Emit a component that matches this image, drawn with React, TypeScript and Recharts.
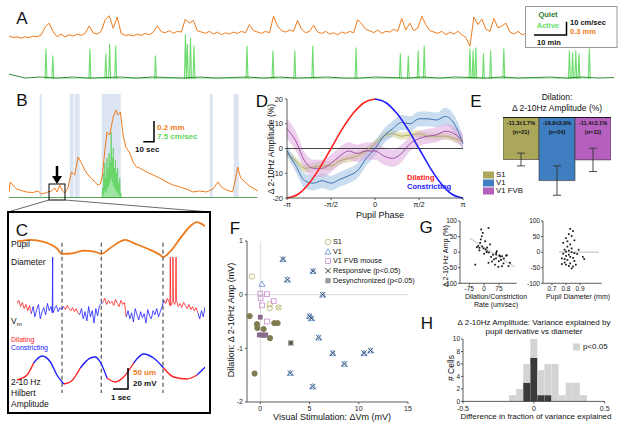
import React from 'react';
import {
  ComposedChart,
  Line,
  Area,
  XAxis,
  YAxis,
  ReferenceLine,
  ReferenceArea,
  BarChart,
  Bar,
  Cell,
  ErrorBar,
  ScatterChart,
  Scatter,
} from 'recharts';

const FONT = '"Liberation Sans", Arial, Helvetica, sans-serif';
const ORANGE = '#ee7a1c';
const LIGHT_GREEN = '#6fdc6f';
const DARK_GREEN = '#237a23';
const RED = '#ff2020';
const BLUE = '#2020ff';
const S1_COLOR = '#aaa65a';
const V1_COLOR = '#3f7ec0';
const FVB_COLOR = '#b660bd';

// ---- A: pupil diameter (every 1.25 min) and running speed (min) ----
const pupilA = [
  32, 28, 30, 26, 30, 28, 32, 30, 35, 58, 70, 45, 30, 38, 30, 36, 32, 38, 34, 40,
  62, 42, 38, 46, 80, 92, 55, 88, 40, 34, 36, 33, 38, 34, 40, 36, 44, 62, 45, 42,
  48, 40, 46, 44, 82, 70, 78, 48, 44, 40, 46, 38, 44, 36, 42, 38, 44, 40, 46, 42,
  66, 48, 44, 40, 46, 42, 90, 62, 48, 44, 50, 46, 78, 52, 42, 46, 64, 44, 40, 46,
  38, 42, 36, 44, 40, 46, 42, 80, 68, 52, 48, 42, 50, 40, 46, 44, 52, 46, 84, 50,
  70, 48, 56, 90, 66, 48, 44, 40, 46, 36, 44, 38, 46, 36, 28, 2, 88, 66, 82, 52,
  46, 84, 56, 62, 70, 44, 38, 46, 36, 40,
];
const pupilAStep = 1.25;
const spikeTimesA = [
  11.6, 13.75, 25.4, 30.4, 31.6, 33.5, 46, 55.4, 56, 57, 58.1, 74.75, 82.9, 89.75, 95.4, 109,
  122.9, 125.4, 128.5, 130.4, 144.75, 145.75, 146.6, 149, 151.25, 155.4, 176, 177, 178, 179, 182.25,
];
const spikeHeightsA = [
  31, 24, 31, 26, 36, 34, 24, 46, 36, 42, 34, 34, 29, 29, 34, 32,
  26, 24, 29, 34, 31, 29, 32, 26, 29, 31, 29, 27, 29, 26, 31,
];
const quietSpeedA = [
  5, 1, 2, 1, 2, 1, 1.5, 2, 1, 2, 1.5, 1, 2, 1, 1.5, 2, 1, 2, 1, 1.5,
  2, 1, 1, 2, 1.5, 1, 2, 1, 2, 1.5, 1, 2, 1, 1.5, 2, 1, 2, 1, 1.5,
];
const quietStepA = 5;

// ---- B: zoomed pupil / running (seconds) ----
const timeB = [
  0, 1.2, 3.7, 6.9, 10, 16.3, 22.4, 27.1, 30.3, 35, 39.6, 42.7, 44.9, 47.4, 49.9, 52, 55.1, 58.3,
  61.4, 64.5, 67.7, 70.8, 73.8, 77, 80.1, 83.2, 85.4, 87.3, 89.4, 91.6, 94.1, 97.2, 99.7, 101.9,
  104.1, 106.6, 109.1, 112.8, 115.9, 119.1, 122.1, 128.4, 134.6, 140.8, 147.1, 153.3, 159.5,
  165.8, 172, 178.2, 184.5, 190.7, 195.3, 198.5, 203.2, 206.3, 209, 211.9, 213.7, 216.5, 220.3,
  224.9, 229.6, 232.4,
];
const pupilB = [
  6, 16, 13, 9, 8, 6, 5.5, 7, 4, 5.5, 7, 10, 6, 13, 7, 5, 10, 26, 23, 41, 35, 28, 23, 20, 16,
  13, 14, 23, 46, 66, 63, 80, 88, 83, 86, 63, 51, 45, 36, 31, 30, 26, 23, 20, 16, 13, 11, 9, 6,
  7, 6, 9, 16, 11, 8, 7, 6, 20, 31, 20, 16, 12, 9, 7,
];
const speedTimeB = [
  87, 87.5, 88, 88.5, 89, 89.5, 90, 90.5, 91, 91.5, 92, 92.5, 93, 93.5, 94, 94.5, 95, 95.5, 96,
  96.5, 97, 97.5, 98, 98.5, 99, 99.5, 100, 100.5, 101, 101.5, 102, 102.5, 103, 103.5, 104, 104.5, 105,
];
const speedB = [
  0, 10, 3, 25, 5, 35, 8, 20, 6, 40, 10, 30, 12, 45, 15, 35, 18, 66, 20,
  40, 15, 50, 12, 30, 10, 38, 8, 25, 6, 30, 5, 15, 3, 20, 2, 5, 0,
];
const activeBandStart = [28.7, 56.7, 61.4, 86.6, 187.6, 210];
const activeBandEnd = [30.6, 60.4, 66, 104.4, 190.4, 214.7];

// ---- C: expanded view (seconds) ----
const pupilTimeC = [0, 0.93, 1.86, 2.79, 3.14, 3.95, 4.65, 5.47, 5.88, 6.51, 7.21, 7.56, 8.14, 9.07, 10, 10.19, 10.7, 11.4, 12.09, 12.56, 12.91, 13.14];
const pupilUmC = [48, 52, 47, 31, 18, 20, 26, 23, 18, 32, 48, 52, 44, 31, 15, 10, 24, 56, 85, 95, 90, 85];
const vmStepC = 0.125;
const vmC = [
  -55, -52, -58, -54, -60, -56, -62, -57,
  -65, -58, -68, -61, -56, -70, -63, -59, -66, -55, -62, -58, -64, -60, -57, -63, -59, -61,
  -58, -61, -57, -60, -62, -59, -63, -60, -64,
  -66, -60, -70, -63, -72, -58, -68, -62, -74, -60, -67, -57, -55,
  -54, -50, -56, -52, -55, -53, -57, -51, -55, -58, -52, -56, -54,
  -68, -62, -70, -64, -73, -60, -66, -71, -63, -69, -65, -74, -61, -67, -70, -62, -66, -60, -68, -63, -58,
  -52, -55, -50, -54, -57, -53, -56, -52, -58, -55, -59, -54, -57, -60, -56, -61, -58, -62, -59,
  -64, -70, -62, -68, -58,
];
const vmSpikeTimes = [2.49, 10.7, 10.88, 11.1];
const vmSpikePeak = -10;
const hilbertTimeC = [0, 0.7, 1.16, 1.74, 2.33, 2.79, 3.26, 3.72, 4.42, 5.12, 5.47, 5.81, 6.28, 6.86, 7.44, 8.14, 8.84, 9.53, 10.23, 10.93, 11.86, 12.56, 13.14];
const hilbertC = [15, 20, 32, 39, 33, 20, 11, 13, 27, 37, 38, 33, 17, 13, 18, 32, 41, 37, 27, 18, 16, 20, 28];
const dilStart = [0, 3.14, 5.88, 10.19];
const dilEnd = [0.95, 4.35, 7.6, 12.56];
const phaseMarkersC = [3.14, 5.88, 10.19];

// ---- D: amplitude vs pupil phase ----
const phaseX = [-1, -0.9, -0.8, -0.7, -0.6, -0.5, -0.4, -0.3, -0.2, -0.1, 0, 0.1, 0.2, 0.3, 0.4, 0.5, 0.6, 0.7, 0.8, 0.9, 1];
const s1Mean = [-2, -5, -8, -7.5, -7, -7, -5, -4, -3, -1, 2, 5, 6, 5, 5.5, 6, 5, 5, 5, 4, 3];
const s1Sem = [1.5, 1.5, 1.8, 1.8, 1.8, 1.8, 1.6, 1.6, 1.6, 1.5, 1.5, 1.5, 1.5, 1.5, 1.5, 1.5, 1.5, 1.5, 1.5, 1.5, 1.5];
const v1Mean = [-1, -7, -13, -14, -13, -14, -12.5, -11, -9, -4, 0, 5, 8, 10.5, 10, 12, 12, 11.5, 13, 10, 2];
const v1Sem = [2, 2.5, 3, 3, 3, 3, 3, 3, 3, 3, 3, 3, 3, 3, 3, 3, 3, 3, 3.5, 3.5, 3];
const fvbMean = [8, 3, -5, -8, -8, -6, -3, -1, -2, -1, -1, -3, -4, -2, 2, 4, 5, 5.5, 7, 6, 3];
const fvbSem = [4, 4, 3.5, 3.5, 3.5, 3.5, 3.5, 3.5, 3.5, 3.5, 3.5, 3.5, 3.5, 3.5, 3, 3, 3, 3, 3, 3, 3];
const pupilPhaseX = [-1, -0.875, -0.75, -0.625, -0.5, -0.375, -0.25, -0.125, 0, 0.125, 0.25, 0.375, 0.5, 0.625, 0.75, 0.875, 1];
const pupilPhaseCurve = [-20, -18.5, -14.1, -7.7, 0, 7.7, 14.1, 18.5, 20, 18.5, 14.1, 7.7, 0, -7.7, -14.1, -18.5, -20];
const phaseTicks = [-1, -0.5, 0, 0.5, 1];
const phaseTickLabels = ['-π', '-π/2', '0', 'π/2', 'π'];

// ---- E: dilation summary ----
const areaNames = ['S1', 'V1', 'V1 FVB'];
const dilationMean = [-11.3, -16.9, -11.4];
const dilationSem = [1.7, 3.9, 3.1];
const cellCounts = [21, 24, 11];
const areaColors = [S1_COLOR, V1_COLOR, FVB_COLOR];

// ---- F: visual response vs dilation effect ----
const s1Open = [[-0.85, 0.34], [0.95, -0.18], [0.95, -0.25]];
const s1Responsive = [[1.86, -0.24]];
const s1Desync = [[-1.08, -0.4], [-0.34, -0.55], [-0.3, -0.62], [0.34, -0.64], [1.42, -0.53], [1.76, -0.53], [0.98, -0.81], [-0.58, -1.47]];
const s1RespDesync = [[3.1, -0.9]];
const v1Open = [[0.17, 0.2]];
const v1Responsive = [
  [2.3, 0.66], [2.75, 0.28], [5.36, 0.44], [6.34, 0], [5.0, -0.4], [5.2, -0.44], [5.93, -0.8],
  [7.36, -1.09], [8.54, -1.29], [10.54, -1.09], [11.2, -1.04], [3.05, -1.46], [5.32, -1.71],
];
const fvbOpen = [[0, 0.02], [0.68, 0.01], [0.03, -0.07], [1.36, -0.12], [0.17, -0.2], [0.68, -0.5]];
const fvbDesync = [[0, -0.42], [-0.1, -0.75], [0.15, -0.75], [0.35, -0.76], [0.55, -0.75]];

// ---- G: rate / diameter scatter ----
const rateVsAmp = [
  [-15, 73], [22, 78], [-7, 62], [-12, 51], [-17, 41], [5, 35], [30, 25], [-37, 16], [-24, 14], [-3, 12],
  [7, 9], [13, 3], [24, -1], [64, 3], [61, -7], [77, -10], [91, -13], [115, -10], [-45, -40], [-24, 6],
  [13, 0], [61, -2], [81, -13], [111, -11], [50, -23], [74, -29], [98, -36], [72, -47], [22, -34], [123, -45],
  [131, -34], [-30, 20], [-10, 18], [0, -5], [35, -15], [45, -8], [60, -20], [85, -25], [100, -20], [55, -40],
  [40, -30], [-20, 30], [15, 15], [90, -45],
];
const rateFit = [[-72, 45], [155, -48]];
const diameterVsAmp = [
  [0.83, 75], [0.85, 68], [0.82, 58], [0.84, 52], [0.8, 45], [0.86, 38], [0.78, 30], [0.83, 25], [0.81, 18],
  [0.84, 12], [0.79, 8], [0.82, 5], [0.8, 2], [0.84, 0], [0.86, -3], [0.78, -5], [0.82, -8], [0.88, -6],
  [0.8, -12], [0.83, -15], [0.85, -18], [0.77, -20], [0.81, -25], [0.86, -28], [0.79, -33], [0.83, -36],
  [0.8, -40], [0.82, -44], [0.85, -46], [0.84, -52], [0.92, -15], [0.93, -22], [0.89, 8], [0.77, -38],
  [0.87, -40], [0.81, 35], [0.79, -22],
];
const diameterFit = [[0.75, 0], [1.035, 0]];

// ---- H: histogram ----
const histBins = [-0.15, -0.1, -0.05, 0, 0.05, 0.1, 0.15, 0.2, 0.25, 0.3, 0.35];
const histAll = [1, 2, 6, 10, 5, 6, 6, 1, 3, 3, 1];
const histDark = [0, 0, 3, 7, 1, 1, 0, 0, 0, 0, 0];

// ---------- derived rows ----------
const pupilARows = pupilA.map((v, i) => ({ t: i * pupilAStep, v }));
const activeARows = spikeTimesA
  .flatMap((t, i) => [
    { t: t - 0.3, v: 0 },
    { t, v: spikeHeightsA[i] },
    { t: t + 0.3, v: 0 },
  ])
  .sort((a, b) => a.t - b.t);
const quietARows = quietSpeedA.map((v, i) => ({ t: i * quietStepA, v }));
const pupilBRows = timeB.map((t, i) => ({ t, v: pupilB[i] }));
const speedBRows = speedTimeB.map((t, i) => ({ t, v: speedB[i] }));

const isDil = (t: number) => dilStart.some((a, i) => t >= a && t < dilEnd[i]);
const splitPhase = (rows: { t: number; v: number }[]) =>
  rows.map((r, i) => {
    const d = isDil(r.t);
    const pd = i > 0 ? isDil(rows[i - 1].t) : d;
    return { t: r.t, dil: d || pd ? r.v : null, con: !d || !pd ? r.v : null };
  });
const vmBase = vmC.map((v, i) => ({ t: i * vmStepC, v }));
const vmRows = splitPhase(
  [
    ...vmBase,
    ...vmSpikeTimes.flatMap((ts) => {
      const b = vmC[Math.round(ts / vmStepC)];
      return [
        { t: ts - 0.03, v: b },
        { t: ts, v: vmSpikePeak },
        { t: ts + 0.03, v: b },
      ];
    }),
  ].sort((a, b) => a.t - b.t)
);
const hilbertRows = splitPhase(hilbertTimeC.map((t, i) => ({ t, v: hilbertC[i] })));
const pupilCRows = pupilTimeC.map((t, i) => ({ t, v: pupilUmC[i] }));

const phaseRows = phaseX.map((x, i) => ({
  x,
  s1: s1Mean[i],
  s1Band: [s1Mean[i] - s1Sem[i], s1Mean[i] + s1Sem[i]],
  v1: v1Mean[i],
  v1Band: [v1Mean[i] - v1Sem[i], v1Mean[i] + v1Sem[i]],
  fvb: fvbMean[i],
  fvbBand: [fvbMean[i] - fvbSem[i], fvbMean[i] + fvbSem[i]],
}));
const dilCurve = pupilPhaseX.map((x, i) => ({ x, y: x <= 0 ? pupilPhaseCurve[i] : null }));
const conCurve = pupilPhaseX.map((x, i) => ({ x, y: x >= 0 ? pupilPhaseCurve[i] : null }));

const eRows = areaNames.map((name, i) => ({ name, value: dilationMean[i], err: dilationSem[i] }));
const pts = (a: number[][]) => a.map(([x, y]) => ({ x, y }));
const histRows = histBins.map((x, i) => ({ x, dark: histDark[i], rest: histAll[i] - histDark[i] }));

// ---------- helpers ----------
const Txt = ({ x, y, s = 8, c = '#111', a = 'middle', r = 0, b = false, children }: any) => {
  const tx = a === 'middle' ? '-50%' : a === 'end' ? '-100%' : '0%';
  return (
    <div
      style={{
        position: 'absolute',
        left: x,
        top: y,
        transform: `translate(${tx},-50%)${r ? ` rotate(${r}deg)` : ''}`,
        fontSize: s,
        color: c,
        fontWeight: b ? 700 : 400,
        whiteSpace: 'nowrap',
        lineHeight: 1,
        fontFamily: FONT,
      }}
    >
      {children}
    </div>
  );
};
const Place = ({ x, y, children }: any) => <div style={{ position: 'absolute', left: x, top: y }}>{children}</div>;

const tick = (s: number) => ({ fontSize: s, fill: '#222', fontFamily: FONT });
const AX = { stroke: '#333', strokeWidth: 0.8 };
const M0 = { top: 0, right: 0, bottom: 0, left: 0 };

const S1_MARK = '#b5b065';
const S1_FILL = '#7f7c52';
const V1_MARK = '#5b8fd0';
const RESP_X = '#2f4560';
const FVB_MARK = '#c88ccc';
const FVB_FILL = '#8a6a8c';

const xMark = (cx: number, cy: number, r: number, c: string) => (
  <g>
    <line x1={cx - r} y1={cy - r} x2={cx + r} y2={cy + r} stroke={c} strokeWidth={0.9} />
    <line x1={cx - r} y1={cy + r} x2={cx + r} y2={cy - r} stroke={c} strokeWidth={0.9} />
  </g>
);
const tri = (cx: number, cy: number, r: number) => `${cx},${cy - r} ${cx - r},${cy + r * 0.8} ${cx + r},${cy + r * 0.8}`;

const shapeS1Open = (p: any) => <circle cx={p.cx} cy={p.cy} r={2.7} fill="none" stroke={S1_MARK} strokeWidth={0.8} />;
const shapeS1Resp = (p: any) => (
  <g>
    <circle cx={p.cx} cy={p.cy} r={2.7} fill="none" stroke={S1_MARK} strokeWidth={0.8} />
    {xMark(p.cx, p.cy, 2.4, S1_MARK)}
  </g>
);
const shapeS1Desync = (p: any) => <circle cx={p.cx} cy={p.cy} r={2.6} fill={S1_FILL} stroke={S1_FILL} />;
const shapeS1RespDesync = (p: any) => (
  <g>
    <circle cx={p.cx} cy={p.cy} r={2.6} fill={S1_FILL} />
    {xMark(p.cx, p.cy, 2.6, RESP_X)}
  </g>
);
const shapeV1Open = (p: any) => <polygon points={tri(p.cx, p.cy, 3)} fill="none" stroke={V1_MARK} strokeWidth={0.8} />;
const shapeV1Resp = (p: any) => (
  <g>
    <polygon points={tri(p.cx, p.cy, 3)} fill="none" stroke={V1_MARK} strokeWidth={0.8} />
    {xMark(p.cx, p.cy, 2.6, RESP_X)}
  </g>
);
const shapeFvbOpen = (p: any) => <rect x={p.cx - 2.4} y={p.cy - 2.4} width={4.8} height={4.8} fill="none" stroke={FVB_MARK} strokeWidth={0.8} />;
const shapeFvbDesync = (p: any) => <rect x={p.cx - 2.4} y={p.cy - 2.4} width={4.8} height={4.8} fill={FVB_FILL} />;
const shapeDot = (p: any) => <rect x={p.cx - 0.8} y={p.cy - 0.8} width={1.7} height={1.7} fill="#111" />;

export default function App() {
  return (
    <div style={{ position: 'absolute', left: 0, top: 0, width: 622, height: 429, background: '#fff', overflow: 'hidden', fontFamily: FONT }}>
      {/* A: pupil */}
      <Place x={9} y={13}>
        <ComposedChart width={517} height={34} margin={M0}>
          <XAxis type="number" dataKey="t" domain={[0, (pupilA.length - 1) * pupilAStep]} hide />
          <YAxis type="number" domain={[0, 100]} hide />
          <Line data={pupilARows} dataKey="v" stroke={ORANGE} strokeWidth={1} dot={false} isAnimationActive={false} />
        </ComposedChart>
      </Place>
      {/* A: running */}
      <Place x={9} y={30}>
        <ComposedChart width={605} height={49} margin={M0}>
          <XAxis type="number" dataKey="t" domain={[0, 190]} hide />
          <YAxis type="number" domain={[0, 50]} hide />
          <Line data={activeARows} dataKey="v" stroke={LIGHT_GREEN} strokeWidth={1.1} dot={false} isAnimationActive={false} />
          <Line data={quietARows} dataKey="v" stroke={DARK_GREEN} strokeWidth={0.9} dot={false} isAnimationActive={false} />
        </ComposedChart>
      </Place>

      {/* B */}
      <Place x={9.3} y={94}>
        <ComposedChart width={248.7} height={104} margin={M0}>
          <XAxis type="number" dataKey="t" domain={[0, 232.4]} hide />
          <YAxis type="number" domain={[0, 104]} hide />
          {activeBandStart.map((a, i) => (
            <ReferenceArea key={i} x1={a} x2={activeBandEnd[i]} y1={0} y2={104} fill="#dbe4f0" fillOpacity={1} stroke="none" />
          ))}
          <Area data={speedBRows} dataKey="v" stroke="#5fd35f" strokeWidth={0.8} fill="#8fe38f" fillOpacity={0.8} isAnimationActive={false} />
          <ReferenceLine y={0} stroke="#2a8a2a" strokeWidth={1.5} />
          <Line data={pupilBRows} dataKey="v" stroke={ORANGE} strokeWidth={1} dot={false} isAnimationActive={false} />
        </ComposedChart>
      </Place>

      {/* C: pupil */}
      <Place x={16.7} y={220.4}>
        <ComposedChart width={188.3} height={41.3} margin={M0}>
          <XAxis type="number" dataKey="t" domain={[0, 13.14]} hide />
          <YAxis type="number" domain={[0, 100]} hide />
          <Line data={pupilCRows} dataKey="v" type="monotone" stroke={ORANGE} strokeWidth={1.8} dot={false} isAnimationActive={false} />
        </ComposedChart>
      </Place>
      {/* C: Vm + phase markers */}
      <Place x={16.7} y={241.7}>
        <ComposedChart width={188.3} height={151.7} data={vmRows} margin={M0}>
          <XAxis type="number" dataKey="t" domain={[0, 13.14]} hide />
          <YAxis type="number" domain={[-142.6, 4.66]} hide />
          {phaseMarkersC.map((t) => (
            <ReferenceLine key={t} x={t} stroke="#555" strokeWidth={1.2} strokeDasharray="4 3" />
          ))}
          <Line dataKey="dil" stroke={RED} strokeWidth={0.8} dot={false} connectNulls={false} isAnimationActive={false} />
          <Line dataKey="con" stroke={BLUE} strokeWidth={0.8} dot={false} connectNulls={false} isAnimationActive={false} />
        </ComposedChart>
      </Place>
      {/* C: Hilbert */}
      <Place x={16.7} y={345}>
        <ComposedChart width={188.3} height={50} data={hilbertRows} margin={M0}>
          <XAxis type="number" dataKey="t" domain={[0, 13.14]} hide />
          <YAxis type="number" domain={[0, 50]} hide />
          <Line dataKey="dil" type="monotone" stroke={RED} strokeWidth={1.4} dot={false} isAnimationActive={false} />
          <Line dataKey="con" type="monotone" stroke={BLUE} strokeWidth={1.4} dot={false} isAnimationActive={false} />
        </ComposedChart>
      </Place>

      {/* D */}
      <Place x={273} y={94}>
        <ComposedChart width={196} height={118} data={phaseRows} margin={{ top: 5, right: 6, bottom: 0, left: 0 }}>
          <XAxis
            type="number"
            dataKey="x"
            domain={[-1, 1]}
            ticks={phaseTicks}
            interval={0}
            tickFormatter={(v: number) => phaseTickLabels[phaseTicks.indexOf(v)]}
            tick={tick(7.5)}
            tickSize={2}
            axisLine={AX}
            tickLine={AX}
            height={14}
          />
          <YAxis type="number" domain={[-20, 20]} ticks={[-20, -10, 0, 10, 20]} interval={0} tick={tick(7.5)} tickSize={2} axisLine={AX} tickLine={AX} width={14} />
          <Area dataKey="s1Band" type="monotone" stroke="none" fill="#d6d49a" fillOpacity={0.6} isAnimationActive={false} />
          <Area dataKey="v1Band" type="monotone" stroke="none" fill="#9fc0e4" fillOpacity={0.55} isAnimationActive={false} />
          <Area dataKey="fvbBand" type="monotone" stroke="none" fill="#dcaade" fillOpacity={0.55} isAnimationActive={false} />
          <ReferenceLine y={0} stroke="#444" strokeWidth={1} />
          <Line dataKey="s1" type="monotone" stroke="#b3ae5a" strokeWidth={1} dot={false} isAnimationActive={false} />
          <Line dataKey="v1" type="monotone" stroke="#3f74b0" strokeWidth={1} dot={false} isAnimationActive={false} />
          <Line dataKey="fvb" type="monotone" stroke="#a350a8" strokeWidth={1} dot={false} isAnimationActive={false} />
          <Line data={dilCurve} dataKey="y" type="monotone" stroke={RED} strokeWidth={1.6} dot={false} isAnimationActive={false} />
          <Line data={conCurve} dataKey="y" type="monotone" stroke={BLUE} strokeWidth={1.6} dot={false} isAnimationActive={false} />
        </ComposedChart>
      </Place>

      {/* E */}
      <Place x={503} y={116.7}>
        <BarChart width={108} height={79} data={eRows} margin={M0} barCategoryGap={0} barGap={0}>
          <XAxis dataKey="name" hide />
          <YAxis type="number" domain={[-21, 0]} hide />
          <Bar dataKey="value" stroke="#333" strokeWidth={0.6} isAnimationActive={false}>
            {eRows.map((r, i) => (
              <Cell key={r.name} fill={areaColors[i]} />
            ))}
            <ErrorBar dataKey="err" width={4} stroke="#333" strokeWidth={0.9} direction="y" />
          </Bar>
          <ReferenceLine y={0} stroke="#000" strokeWidth={1.6} />
        </BarChart>
      </Place>

      {/* F */}
      <Place x={234.7} y={235.7}>
        <ScatterChart width={179} height={178} margin={{ top: 5, right: 6, bottom: 0, left: 0 }}>
          <XAxis type="number" dataKey="x" domain={[-1.35, 15]} ticks={[0, 5, 10, 15]} interval={0} tick={tick(7)} tickSize={2} axisLine={AX} tickLine={AX} height={12} />
          <YAxis type="number" dataKey="y" domain={[-2, 1]} ticks={[-2, -1, 0, 1]} interval={0} tick={tick(7)} tickSize={2} axisLine={AX} tickLine={AX} width={12} />
          <ReferenceLine x={0} stroke="#dcdcdc" strokeWidth={1} />
          <ReferenceLine y={0} stroke="#dcdcdc" strokeWidth={1} />
          <Scatter data={pts(s1Open)} shape={shapeS1Open} isAnimationActive={false} />
          <Scatter data={pts(s1Responsive)} shape={shapeS1Resp} isAnimationActive={false} />
          <Scatter data={pts(s1Desync)} shape={shapeS1Desync} isAnimationActive={false} />
          <Scatter data={pts(s1RespDesync)} shape={shapeS1RespDesync} isAnimationActive={false} />
          <Scatter data={pts(v1Open)} shape={shapeV1Open} isAnimationActive={false} />
          <Scatter data={pts(v1Responsive)} shape={shapeV1Resp} isAnimationActive={false} />
          <Scatter data={pts(fvbOpen)} shape={shapeFvbOpen} isAnimationActive={false} />
          <Scatter data={pts(fvbDesync)} shape={shapeFvbDesync} isAnimationActive={false} />
        </ScatterChart>
      </Place>

      {/* G left */}
      <Place x={444} y={216}>
        <ScatterChart width={76.7} height={78.3} margin={{ top: 5, right: 4, bottom: 0, left: 0 }}>
          <XAxis type="number" dataKey="x" domain={[-122, 165]} ticks={[-75, 0, 75]} interval={0} tick={tick(6.5)} tickSize={2} tickMargin={1} axisLine={AX} tickLine={AX} height={11} />
          <YAxis type="number" dataKey="y" domain={[-100, 100]} ticks={[-100, -50, 0, 50, 100]} interval={0} tick={tick(6.5)} tickSize={2} tickMargin={1} axisLine={AX} tickLine={AX} width={16} />
          <ReferenceLine segment={pts(rateFit)} stroke="#c8c8c8" strokeWidth={1.2} />
          <Scatter data={pts(rateVsAmp)} shape={shapeDot} isAnimationActive={false} />
        </ScatterChart>
      </Place>
      {/* G right */}
      <Place x={527} y={216}>
        <ScatterChart width={78.7} height={78.3} margin={{ top: 5, right: 4, bottom: 0, left: 0 }}>
          <XAxis type="number" dataKey="x" domain={[0.636, 1.055]} ticks={[0.7, 0.8, 0.9]} interval={0} tick={tick(6.5)} tickSize={2} tickMargin={1} axisLine={AX} tickLine={AX} height={11} />
          <YAxis type="number" dataKey="y" domain={[-100, 100]} ticks={[-100, -50, 0, 50, 100]} interval={0} tick={tick(6.5)} tickSize={2} tickMargin={1} axisLine={AX} tickLine={AX} width={16} />
          <ReferenceLine segment={pts(diameterFit)} stroke="#c8c8c8" strokeWidth={1.2} />
          <Scatter data={pts(diameterVsAmp)} shape={shapeDot} isAnimationActive={false} />
        </ScatterChart>
      </Place>

      {/* H */}
      <Place x={453.3} y={335.3}>
        <BarChart width={157.7} height={77.4} data={histRows} margin={{ top: 4, right: 6, bottom: 0, left: 0 }}>
          <XAxis type="number" dataKey="x" domain={[-0.5, 0.5]} ticks={[-0.5, 0, 0.5]} interval={0} tick={tick(7)} tickSize={2} tickMargin={2.5} axisLine={AX} tickLine={AX} height={11} />
          <YAxis type="number" domain={[0, 10]} ticks={[0, 2, 4, 6, 8, 10]} interval={0} tick={tick(6.5)} tickSize={2} tickMargin={1} axisLine={AX} tickLine={AX} width={10} />
          <Bar dataKey="dark" stackId="h" fill="#3a3a3a" barSize={7} isAnimationActive={false} />
          <Bar dataKey="rest" stackId="h" fill="#d4d4d4" barSize={7} isAnimationActive={false} />
        </BarChart>
      </Place>

      {/* decorations: boxes, scale bars, arrow, legend markers */}
      <svg width={622} height={429} style={{ position: 'absolute', left: 0, top: 0, pointerEvents: 'none' }}>
        <rect x={525.5} y={6.5} width={91.5} height={41} fill="none" stroke="#999" strokeWidth={1} />
        <path d="M534,35 H566.5 V21.7" fill="none" stroke="#000" strokeWidth={1.5} />
        <path d="M143.3,141.7 H154 V121" fill="none" stroke="#000" strokeWidth={1.5} />
        <line x1={57} y1={166} x2={57} y2={177} stroke="#000" strokeWidth={2.5} />
        <polygon points="52,176 62,176 57,184" fill="#000" />
        <rect x={49} y={184} width={16} height={16} fill="none" stroke="#000" strokeWidth={1} />
        <line x1={49} y1={200} x2={8} y2={212} stroke="#444" strokeWidth={0.8} />
        <line x1={65} y1={200} x2={210} y2={212} stroke="#444" strokeWidth={0.8} />
        <rect x={8} y={212} width={202} height={201} fill="none" stroke="#000" strokeWidth={2} />
        <path d="M113,389 H128 V368" fill="none" stroke="#000" strokeWidth={1.5} />
        {/* D/E legend */}
        <rect x={483} y={171.5} width={11} height={7} fill={S1_COLOR} />
        <rect x={483} y={179.5} width={11} height={7} fill={V1_COLOR} />
        <rect x={483} y={187.5} width={11} height={7} fill={FVB_COLOR} />
        {/* F legend */}
        <circle cx={328} cy={242} r={2.8} fill="none" stroke={S1_MARK} strokeWidth={0.8} />
        <polygon points={tri(328, 251.7, 3)} fill="none" stroke={V1_MARK} strokeWidth={0.8} />
        <rect x={325.6} y={258.6} width={4.8} height={4.8} fill="none" stroke={FVB_MARK} strokeWidth={0.8} />
        {xMark(328, 270.7, 2.6, '#222')}
        <rect x={325.4} y={278.1} width={5.2} height={5.2} fill="#999" />
        {/* H legend */}
        <rect x={573} y={343.5} width={7} height={7} fill="#d4d4d4" />
      </svg>

      {/* texts */}
      <Txt x={22} y={18} s={17}>A</Txt>
      <Txt x={548} y={15} s={7.5} b c="#2e7d32">Quiet</Txt>
      <Txt x={548} y={26} s={7.5} b c="#66dd66">Active</Txt>
      <Txt x={570} y={23} s={7.5} b a="start">10 cm/sec</Txt>
      <Txt x={570} y={32} s={7.5} b a="start" c={ORANGE}>0.3 mm</Txt>
      <Txt x={549} y={43} s={7.5} b>10 min</Txt>

      <Txt x={22} y={100} s={17}>B</Txt>
      <Txt x={157} y={128} s={8} b a="start" c={ORANGE}>0.2 mm</Txt>
      <Txt x={157} y={137} s={8} b a="start" c="#5cd65c">7.5 cm/sec</Txt>
      <Txt x={135} y={150} s={8} b a="start">10 sec</Txt>

      <Txt x={22} y={230} s={17}>C</Txt>
      <Txt x={11} y={244} s={8.5} a="start">Pupil</Txt>
      <Txt x={11} y={261.7} s={8.5} a="start">Diameter</Txt>
      <Txt x={11} y={321.7} s={8.5} a="start">
        V<sub style={{ fontSize: 6 }}>m</sub>
      </Txt>
      <Txt x={11} y={339} s={7} a="start" c={RED}>Dilating</Txt>
      <Txt x={11} y={347} s={7} a="start" c={BLUE}>Constricting</Txt>
      <Txt x={11} y={381.7} s={8.5} a="start">2-10 Hz</Txt>
      <Txt x={11} y={393.3} s={8.5} a="start">Hilbert</Txt>
      <Txt x={11} y={404.3} s={8.5} a="start">Amplitude</Txt>
      <Txt x={133} y={373} s={8} b a="start" c={ORANGE}>50 um</Txt>
      <Txt x={133} y={384} s={8} b a="start">20 mV</Txt>
      <Txt x={121} y={398} s={8} b>1 sec</Txt>

      <Txt x={262} y={101} s={17}>D</Txt>
      <Txt x={271} y={148.5} s={8.5} r={-90}>Δ 2-10Hz Amplitude (%)</Txt>
      <Txt x={380} y={215} s={9}>Pupil Phase</Txt>
      <Txt x={407} y={178} s={7.5} b a="start" c={RED}>Dilating</Txt>
      <Txt x={407} y={187} s={7.5} b a="start" c={BLUE}>Constricting</Txt>

      <Txt x={476} y={101} s={17}>E</Txt>
      <Txt x={557} y={97} s={8.5}>Dilation:</Txt>
      <Txt x={557} y={108} s={8.5}>Δ 2-10Hz Amplitude (%)</Txt>
      {areaNames.map((n, i) => (
        <React.Fragment key={n}>
          <Txt x={503 + 36 * i + 18} y={124.3} s={5.6} b>{`${dilationMean[i]}±${dilationSem[i]}%`}</Txt>
          <Txt x={503 + 36 * i + 18} y={133.3} s={5.6} b>{`(n=${cellCounts[i]})`}</Txt>
        </React.Fragment>
      ))}
      {areaNames.map((n, i) => (
        <Txt key={n} x={496} y={175 + 8 * i} s={7.8} a="start">{n}</Txt>
      ))}

      <Txt x={235} y={228} s={17}>F</Txt>
      <Txt x={231} y={320} s={9} r={-90}>Dilation: Δ 2-10Hz Amp (mV)</Txt>
      <Txt x={332} y={417} s={9}>Visual Stimulation: ΔVm (mV)</Txt>
      <Txt x={333} y={242} s={7.3} a="start">S1</Txt>
      <Txt x={333} y={251.7} s={7.3} a="start">V1</Txt>
      <Txt x={333} y={261} s={7.3} a="start">V1 FVB mouse</Txt>
      <Txt x={333} y={270.7} s={7.3} a="start">Responsive (p&lt;0.05)</Txt>
      <Txt x={333} y={280.7} s={7.3} a="start">Desynchronized (p&lt;0.05)</Txt>

      <Txt x={426} y={227} s={17}>G</Txt>
      <Txt x={446} y={256} s={7.3} r={-90}>Δ 2-10 Hz Amp (%)</Txt>
      <Txt x={496} y={296.3} s={7}>Dilation/Constriction</Txt>
      <Txt x={496} y={304.2} s={7}>Rate (um/sec)</Txt>
      <Txt x={578} y={296.3} s={7}>Pupil Diameter (mm)</Txt>

      <Txt x={427} y={323} s={17}>H</Txt>
      <Txt x={534} y={323} s={8}>Δ 2-10Hz Amplitude: Variance explained by</Txt>
      <Txt x={534} y={331.5} s={8}>pupil derivative vs diameter</Txt>
      <Txt x={451} y={368} s={8.5} r={-90}># Cells</Txt>
      <Txt x={536} y={416.5} s={8}>Difference in fraction of variance explained</Txt>
      <Txt x={583} y={347} s={8} a="start">p&lt;0.05</Txt>
    </div>
  );
}
